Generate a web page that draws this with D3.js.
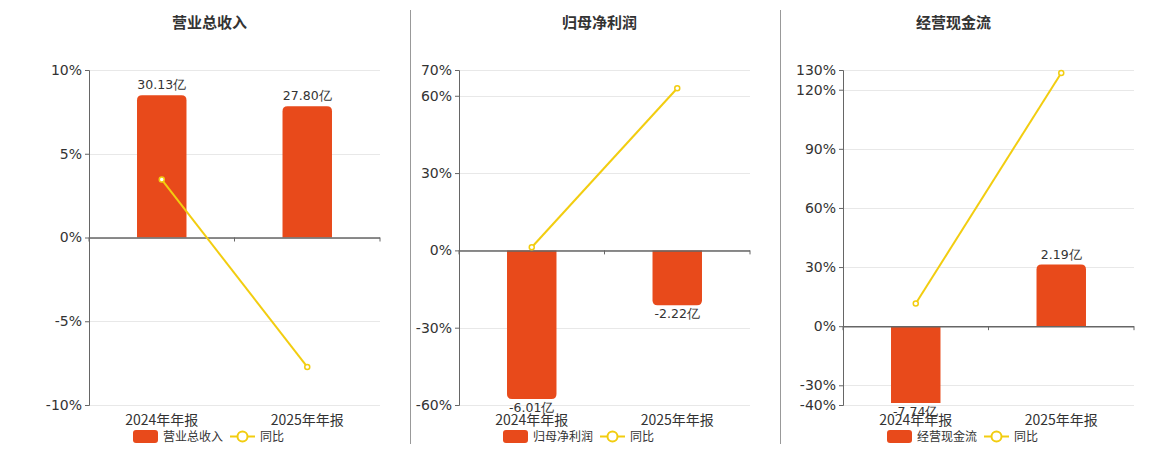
<!DOCTYPE html>
<html><head><meta charset="utf-8">
<script src="https://cdn.jsdelivr.net/npm/d3@7"></script>
<style>body{margin:0;background:#fff;font-family:"Noto Sans CJK SC","Noto Sans",sans-serif;}</style>
</head><body><svg id="c" width="1160" height="450"></svg>
<script>
const categories = ["2024年年报","2025年年报"];
const titles = ["营业总收入","归母净利润","经营现金流"];
const barValues = [[30.13,27.80],[-6.01,-2.22],[-7.74,2.19]];
const barLabels = [["30.13亿","27.80亿"],["-6.01亿","-2.22亿"],["-7.74亿","2.19亿"]];
const yoyValues = [[3.46,-7.73],[1.2,62.9],[11.5,128.5]];
const yDomains = [[-10,10],[-60,70],[-40,130]];
const yTicks = [[-10,-5,0,5,10],[-60,-30,0,30,60,70],[-40,-30,0,30,60,90,120,130]];
const barRef = [35.5,-6.25,9.1];

(function(){
const svg = d3.select("#c");
const BAR="#e84a1b", LINE="#f2cd10";
const panelX=[89,459,843], panelW=291, T=70, B=405;
const titleShift=[25,5,35];
svg.append("line").attr("x1",410.5).attr("x2",410.5).attr("y1",10).attr("y2",444).attr("stroke","#999");
svg.append("line").attr("x1",780.5).attr("x2",780.5).attr("y1",10).attr("y2",444).attr("stroke","#999");

for(let p=0;p<3;p++){
  const x0=panelX[p];
  const g=svg.append("g");
  const y=d3.scaleLinear().domain(yDomains[p]).range([B,T]);
  const zy=y(0);
  const yb=d3.scaleLinear().domain([0,barRef[p]]).range([zy, barRef[p]>0?T:B]);
  const x=d3.scaleBand().domain(categories).range([x0,x0+panelW]).paddingInner(0.66).paddingOuter(0.33);
  g.append("text").attr("x",x0+panelW/2-titleShift[p]).attr("y",28).attr("text-anchor","middle")
    .attr("font-size",15).attr("font-weight","bold").attr("fill","#333").text(titles[p]);
  g.selectAll(".gr").data(yTicks[p]).join("line").attr("x1",x0).attr("x2",x0+panelW)
    .attr("y1",d=>Math.round(y(d))+0.5).attr("y2",d=>Math.round(y(d))+0.5).attr("stroke","#e8e8e8");
  const ax=g.append("g").attr("transform",`translate(${x0},0)`).call(d3.axisLeft(y).tickValues(yTicks[p]).tickFormat(d=>d+"%").tickSize(4));
  ax.selectAll("text").attr("font-size",14).attr("fill","#333").attr("font-family","DejaVu Sans,sans-serif");
  ax.selectAll("line,path").attr("stroke","#666");
  const cid="clip"+p;
  svg.append("clipPath").attr("id",cid).append("rect").attr("x",x0).attr("y",T).attr("width",panelW).attr("height",B-T-2);
  const bars=g.append("g").attr("clip-path",`url(#${cid})`);
  categories.forEach((c,i)=>{
    const v=barValues[p][i], yv=yb(v);
    const r=5, w=x.bandwidth(), bx=x(c);
    let d;
    if(v>=0) d=`M${bx},${zy}V${yv+r}Q${bx},${yv} ${bx+r},${yv}H${bx+w-r}Q${bx+w},${yv} ${bx+w},${yv+r}V${zy}Z`;
    else d=`M${bx},${zy}V${yv-r}Q${bx},${yv} ${bx+r},${yv}H${bx+w-r}Q${bx+w},${yv} ${bx+w},${yv-r}V${zy}Z`;
    bars.append("path").attr("d",d).attr("fill",BAR);
    const ly = v>=0 ? yv-6 : Math.min(yv,B-2)+13;
    g.append("text").attr("x",bx+w/2).attr("y",ly).attr("text-anchor","middle").attr("font-size",12.5)
      .attr("fill","#333").attr("font-family","DejaVu Sans,sans-serif").text(barLabels[p][i]);
  });
  g.append("line").attr("x1",x0).attr("x2",x0+panelW).attr("y1",zy+0.5).attr("y2",zy+0.5).attr("stroke","#666").attr("stroke-width",1.5);
  [0,1,2].forEach(k=>g.append("line").attr("x1",x0+k*panelW/2).attr("x2",x0+k*panelW/2).attr("y1",zy).attr("y2",zy+4).attr("stroke","#666"));
  categories.forEach(c=>g.append("text").attr("x",x(c)+x.bandwidth()/2).attr("y",425).attr("text-anchor","middle")
    .attr("font-size",14).attr("fill","#333").text(c));
  const pts=categories.map((c,i)=>[x(c)+x.bandwidth()/2,y(yoyValues[p][i])]);
  g.append("path").attr("d",d3.line()(pts)).attr("fill","none").attr("stroke",LINE).attr("stroke-width",2);
  pts.forEach(pt=>g.append("circle").attr("cx",pt[0]).attr("cy",pt[1]).attr("r",2.5).attr("fill","#fff").attr("stroke",LINE).attr("stroke-width",1.5));
  const lx=x0+44;
  g.append("rect").attr("x",lx).attr("y",430).attr("width",25).attr("height",13).attr("rx",3).attr("fill",BAR);
  g.append("text").attr("x",lx+30).attr("y",441).attr("font-size",12).attr("fill","#333").text(titles[p]);
  const tw=titles[p].length*12;
  const lx2=lx+30+tw+7;
  g.append("line").attr("x1",lx2).attr("x2",lx2+25).attr("y1",436.5).attr("y2",436.5).attr("stroke",LINE).attr("stroke-width",2);
  g.append("circle").attr("cx",lx2+12.5).attr("cy",436.5).attr("r",5).attr("fill","#fff").attr("stroke",LINE).attr("stroke-width",2);
  g.append("text").attr("x",lx2+30).attr("y",441).attr("font-size",12).attr("fill","#333").text("同比");
}
})();
</script></body></html>
